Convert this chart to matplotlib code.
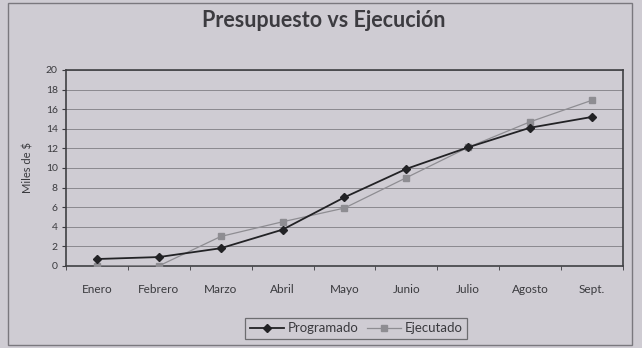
import numpy as np
import matplotlib as mpl
import matplotlib.pyplot as plt
from matplotlib.patches import Rectangle

meses = ['Enero', 'Febrero', 'Marzo', 'Abril', 'Mayo', 'Junio', 'Julio', 'Agosto', 'Sept.']
programado = [0.7, 0.9, 1.8, 3.7, 7.0, 9.9, 12.1, 14.1, 15.2]
ejecutado = [0.0, 0.0, 3.0, 4.5, 5.9, 9.0, 12.1, 14.7, 16.9]
yticks = [0, 2, 4, 6, 8, 10, 12, 14, 16, 18, 20]

paper = '#cfccd3'
ink = '#3a3a3e'

mpl.rc('font', family=['Lato', 'DejaVu Sans'])


def main() -> None:

    fig = plt.figure(figsize=(6.42, 3.48), dpi=100, facecolor=paper)

    # outer chart frame
    fig.patches.append(Rectangle(
        (0.012, 0.01), 0.973, 0.98,
        transform=fig.transFigure,
        fill=False,
        lw=1.0,
        ec='#7a787e',
    ))

    ax = fig.add_axes([0.103, 0.236, 0.867, 0.563])
    ax.set_facecolor(paper)

    x = np.arange(len(meses))

    ax.plot(
        x,
        ejecutado,
        lw=0.9,
        color='#8e8d92',
        marker='s',
        markersize=5,
        label='Ejecutado',
        zorder=3,
    )

    ax.plot(
        x,
        programado,
        lw=1.3,
        color='#222225',
        marker='D',
        markersize=4.3,
        label='Programado',
        zorder=4,
    )

    ax.set_xlim(-0.5, len(meses) - 0.5)
    ax.set_ylim(0, 20)

    ax.set_yticks(yticks)
    ax.yaxis.grid(True, color='#8a888e', lw=0.7)
    ax.set_axisbelow(True)

    ax.set_xticks(x)
    ax.set_xticklabels(meses)
    ax.set_xticks(np.arange(len(meses) + 1) - 0.5, minor=True)
    ax.tick_params(axis='x', which='major', length=0, pad=13, labelsize=8.5, colors=ink)
    ax.tick_params(axis='x', which='minor', length=3, color=ink, direction='out')
    ax.tick_params(axis='y', length=3, labelsize=7.5, colors=ink, pad=3)

    for s in ax.spines.values():
        s.set_color('#404044')
        s.set_linewidth(1.2)

    ax.set_ylabel('Miles de $', fontsize=8, color=ink, labelpad=9)

    fig.text(
        0.505, 0.94,
        'Presupuesto vs Ejecución',
        ha='center',
        va='center',
        fontsize=15.5,
        fontweight='bold',
        color='#3c3b40',
    )

    handles, labels = ax.get_legend_handles_labels()
    leg = fig.legend(
        handles[::-1],
        labels[::-1],
        ncol=2,
        loc='center',
        bbox_to_anchor=(0.555, 0.057),
        fontsize=9.5,
        frameon=True,
        fancybox=False,
        edgecolor='#555558',
        facecolor=paper,
        handlelength=2.6,
        columnspacing=0.6,
        handletextpad=0.3,
        borderpad=0.35,
    )
    leg.get_frame().set_linewidth(0.9)
    for t in leg.get_texts():
        t.set_color(ink)

    fig.savefig('out.png', dpi=100, facecolor=paper)

    return


if __name__ == '__main__':
    main()
